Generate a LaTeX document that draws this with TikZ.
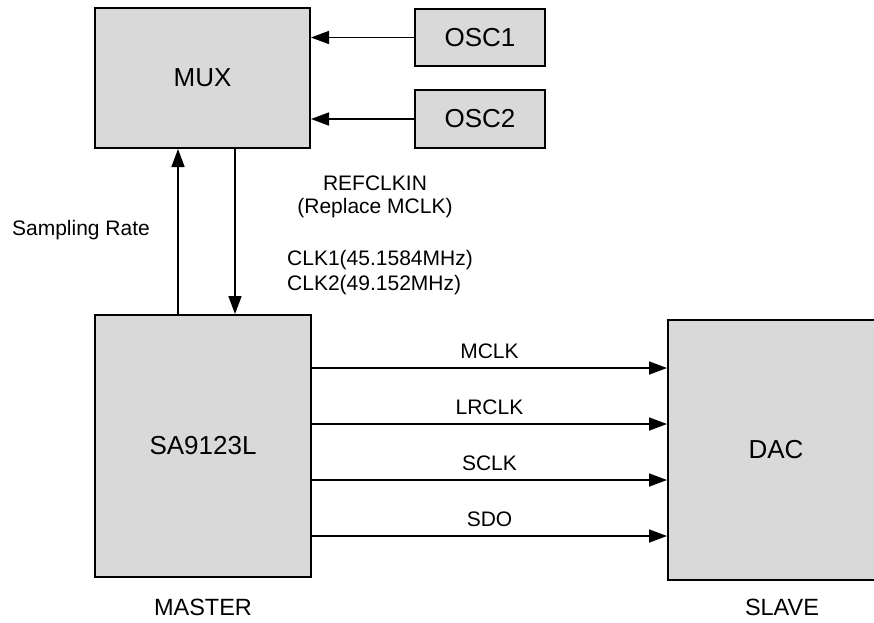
\documentclass[tikz,border=0pt]{standalone}
\usepackage{fontspec}
\setmainfont{Liberation Sans}
\usetikzlibrary{arrows.meta}
\definecolor{boxgray}{HTML}{D9D9D9}
\begin{document}
\begin{tikzpicture}[x=1pt,y=-1pt,
  blk/.style={draw=black, line width=2pt, fill=boxgray, inner sep=0pt,
    font=\fontsize{26}{30}\selectfont},
  arr/.style={line width=1.6pt, -{Triangle[length=18pt,width=13pt]}},
  small/.style={font=\fontsize{21}{25}\selectfont, inner sep=0pt},
  roletext/.style={font=\fontsize{23.5}{28}\selectfont, inner sep=0pt}]
\useasboundingbox (0,0) rectangle (874,622);
\clip (0,0) rectangle (874,622);
% blocks
\node[blk, minimum width=215pt, minimum height=140pt] (mux) at (202.5,78) {MUX};
\node[blk, minimum width=130pt, minimum height=57pt] (osc1) at (480,37.5) {OSC1};
\node[blk, minimum width=130pt, minimum height=58pt] (osc2) at (480,119) {OSC2};
\node[blk, minimum width=216pt, minimum height=262pt] (sa) at (203,446) {SA9123L};
\node[blk, minimum width=216pt, minimum height=260pt] (dac) at (776,450) {DAC};
% oscillator arrows
\draw[arr] (osc1.west) -- (mux.east |- osc1.west);
\draw[arr] (osc2.west) -- (mux.east |- osc2.west);
% vertical arrows
\coordinate (xup) at (178,0);
\coordinate (xdn) at (235,0);
\draw[arr] (sa.north -| xup) -- (mux.south -| xup);
\draw[arr] (mux.south -| xdn) -- (sa.north -| xdn);
% signal arrows
\coordinate (r1) at (0,368);
\coordinate (r2) at (0,424);
\coordinate (r3) at (0,480);
\coordinate (r4) at (0,536);
\draw[arr] (sa.east |- r1) -- node[small, above=9pt] (lmclk) {MCLK} (dac.west |- r1);
\draw[arr] (sa.east |- r2) -- node[small, above=9pt] (llrclk) {LRCLK} (dac.west |- r2);
\draw[arr] (sa.east |- r3) -- node[small, above=9pt] (lsclk) {SCLK} (dac.west |- r3);
\draw[arr] (sa.east |- r4) -- node[small, above=9pt] (lsdo) {SDO} (dac.west |- r4);
% labels
\node[small] (refclk) at (375,183) {REFCLKIN};
\node[small] (repl) at (375,208) {(Replace MCLK)};
\node[small] (samp) at (81,230) {Sampling Rate};
\node[small, anchor=west] (clk1) at (287,260) {CLK1(45.1584MHz)};
\node[small, anchor=west] (clk2) at (287,285) {CLK2(49.152MHz)};
\node[roletext] (master) at (203,607) {MASTER};
\node[roletext] (slave) at (782,607) {SLAVE};
\end{tikzpicture}
\end{document}
